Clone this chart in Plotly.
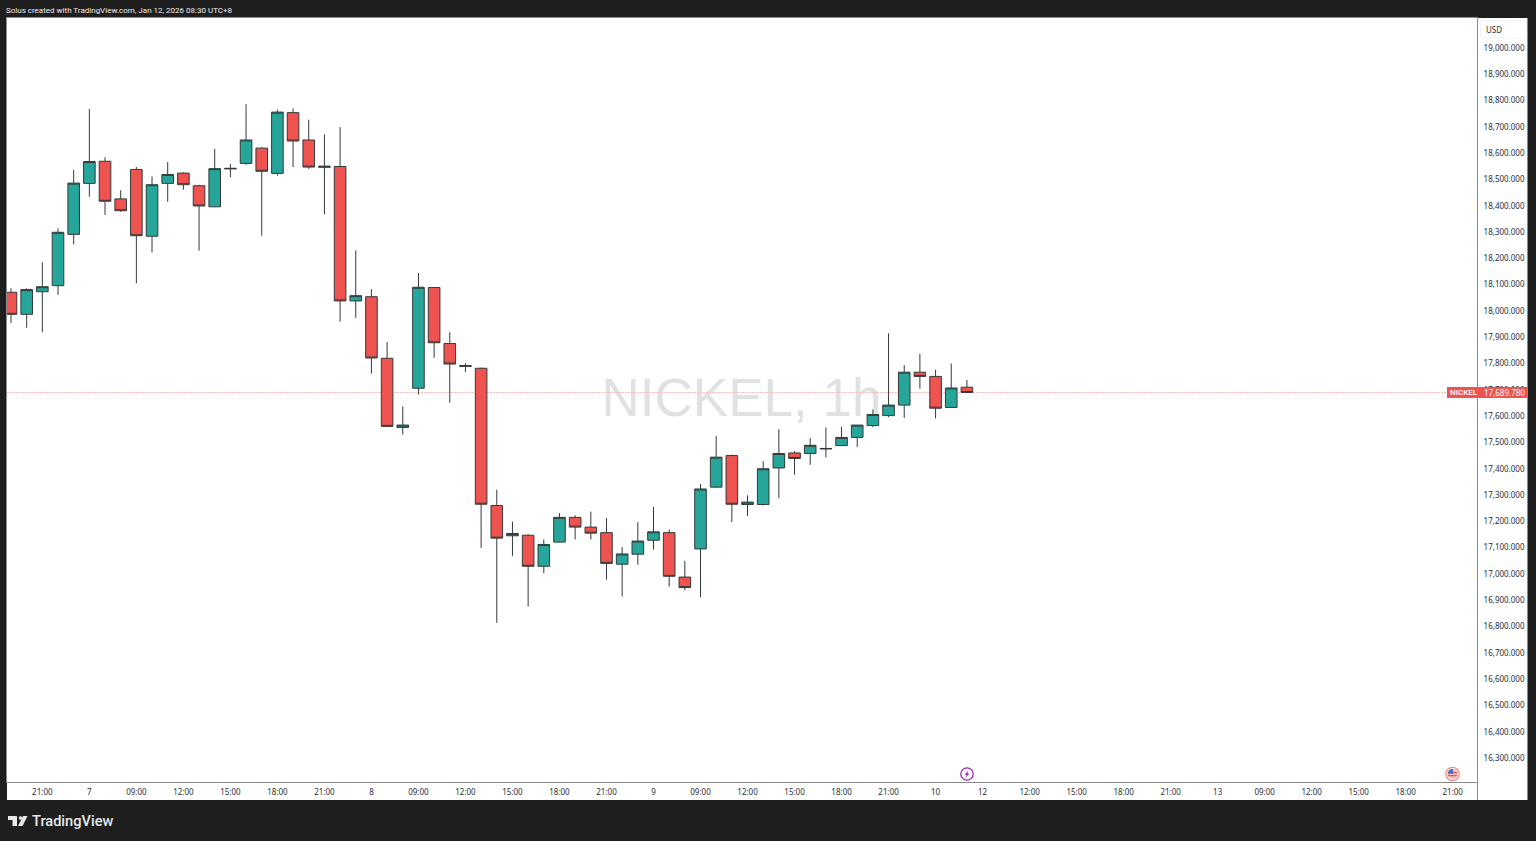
import plotly.graph_objects as go

opens = [18071,17987,18073,18096,18291,18485,18569,18426,18538,18284,18485,18524,18476,18396,18540,18561,18619,18523,18754,18650,18546,18549,18038,18054,17820,17557,17706,18089,17876,17789,17782,17260,17145,17147,17029,17121,17215,17178,17157,17037,17075,17128,17157,16988,17095,17330,17450,17264,17264,17403,17460,17458,17475,17488,17519,17564,17602,17642,17767,17751,17633,17710]
highs = [18086,18086,18185,18314,18536,18768,18584,18459,18547,18511,18566,18527,18480,18616,18559,18786,18623,18765,18770,18727,18671,18699,18230,18083,17882,17637,18144,18091,17919,17801,17785,17320,17199,17151,17131,17231,17223,17237,17212,17102,17197,17255,17169,17050,17342,17524,17454,17299,17429,17550,17467,17516,17557,17559,17566,17625,17915,17794,17837,17776,17800,17737]
lows = [17954,17936,17919,18061,18253,18434,18365,18377,18105,18222,18415,18461,18229,18394,18508,18555,18286,18514,18547,18540,18367,17959,17973,17762,17560,17530,17682,17822,17651,17768,17099,16814,17069,16876,17003,17120,17131,17131,16978,16914,17035,17092,16952,16937,16912,17329,17197,17220,17260,17288,17377,17415,17443,17487,17482,17558,17596,17593,17704,17591,17632,17689.78]
closes = [17987,18081,18092,18299,18486,18568,18417,18381,18286,18480,18519,18480,18399,18541,18542,18650,18531,18756,18646,18547,18550,18038,18058,17821,17561,17566,18090,17879,17798,17792,17265,17136,17154,17029,17112,17215,17178,17155,17040,17076,17125,17160,16991,16948,17323,17444,17265,17273,17400,17458,17439,17489,17477,17519,17566,17606,17642,17767,17751,17630,17707,17689.78]
bar_index = list(range(len(opens)))

tick_positions = list(range(2, 93, 3))
tick_labels = ["21:00","7","09:00","12:00","15:00","18:00","21:00","8","09:00","12:00","15:00","18:00","21:00","9","09:00","12:00","15:00","18:00","21:00","10","12","12:00","15:00","18:00","21:00","13","09:00","12:00","15:00","18:00","21:00"]
price_ticks = list(range(16300, 19100, 100))
last_price = 17689.78

W, H = 1536, 841
L, R, T, B = 7, 1477, 18, 782
DARK = "#1e1e1e"; GREEN = "#26a69a"; RED = "#ef5350"; EDGE = "#343a3a"; TEXT = "#2a2e39"
FONT = "Noto Sans"

def px(x): return (x - L) / (R - L)
def py(y): return (B - y) / (B - T)
def rect(x0, y0, x1, y1, fill, line=None, lw=0, layer="below", kind="rect"):
    return dict(type=kind, xref="paper", yref="paper", x0=px(x0), x1=px(x1), y0=py(y0), y1=py(y1),
                fillcolor=fill, line=dict(color=line or fill, width=lw), layer=layer)
def path(points, fill, line=None, lw=0, layer="above"):
    d = "M " + " L ".join(f"{px(a):.5f},{py(b):.5f}" for a, b in points) + " Z"
    return dict(type="path", xref="paper", yref="paper", path=d, fillcolor=fill,
                line=dict(color=line or fill, width=lw), layer=layer)
def text(x, y, s, size=8, color=TEXT, anchor="left", family=FONT, weight=None):
    f = dict(size=size, color=color, family=family)
    if weight: f["weight"] = weight
    return dict(xref="paper", yref="paper", x=px(x), y=py(y), text=s, showarrow=False, xanchor=anchor,
                yanchor="middle", font=f, borderpad=0, borderwidth=0)

shapes = [
    rect(1478, 18, 1527, 800, "#ffffff"),
    rect(7, 783, 1527, 800, "#ffffff"),
    dict(type="rect", xref="paper", yref="paper", x0=px(605), x1=px(878), y0=py(420), y1=py(365),
         fillcolor="rgba(0,0,0,0)", line=dict(width=0), layer="below",
         label=dict(text="NICKEL, 1h", textposition="middle center",
                    font=dict(size=53, color="#dfe1e3", family="Liberation Sans"))),
    dict(type="line", xref="paper", yref="y", x0=0, x1=px(1447), y0=last_price, y1=last_price,
         line=dict(color="#f9bdbc", width=1, dash="2px,1px"), layer="below"),
    dict(type="line", xref="paper", yref="paper", x0=px(1527.5), x1=px(1527.5), y0=py(18), y1=py(800),
         line=dict(color="#8a8a8a", width=1), layer="above"),
    dict(type="line", xref="paper", yref="paper", x0=px(1477.5), x1=px(1477.5), y0=py(782), y1=py(800),
         line=dict(color="#8a8a8a", width=1), layer="above"),
    dict(type="rect", xref="paper", yref="paper", x0=px(1480.5), x1=px(1526.5), y0=py(38), y1=py(20.5),
         fillcolor="#ffffff", line=dict(color="#f0f3fa", width=1), layer="above"),
    rect(1447, 387, 1477, 398, RED, layer="above"),
    rect(1478, 387, 1527, 398, RED, layer="above"),
    # logo
    path([(8,816),(17,816),(17,826),(12.5,826),(12.5,820),(8,820)], "#e8e8e8"),
    rect(18.7,816.2,22.3,819.8,"#e8e8e8",layer="above",kind="circle"),
    path([(23,816),(27.5,816),(22.5,826),(18,826)], "#e8e8e8"),
    # event icon
    rect(960.8,767.8,973.2,780.2,"#ffffff","#9c27b0",1.3,"above","circle"),
    path([(968.5,770.5),(964.5,774.8),(966.7,774.8),(965.5,777.8),(969.5,773.4),(967.3,773.4)], "#9c27b0"),
    # flag icon
    rect(1445.8,767.3,1459.2,780.7,"#ffffff","#f28b88",1.3,"above","circle"),
    rect(1447.6,769.1,1457.4,778.9,"#f4b9b7",layer="above",kind="circle"),
    path([(1447.6,772),(1457.3,772),(1457.4,773.2),(1447.6,773.2)], "#ef5350"),
    path([(1447.6,775),(1457.4,775),(1457.2,776.2),(1447.8,776.2)], "#ef5350"),
    path([(1447.6,773.8),(1449,770.4),(1451,769.1),(1453,769.1),(1453,773.8)], "#3f72c8"),
]

annotations = [
    text(6, 10, "Solus created with TradingView.com, Jan 12, 2026 08:30 UTC+8", 8, "#ececec", family="Roboto"),
    text(1486, 30, "USD", 8, TEXT),
    text(1449.5, 392.5, "NICKEL", 8, "#ffffff", family="Roboto", weight=500),
    text(1483.5, 392.5, "17,689.780", 8, "#ffffff"),
    text(31.5, 821, "TradingView", 14.6, "#e8e8e8", family="Roboto", weight=500),
]

fig = go.Figure(go.Candlestick(
    x=bar_index, open=opens, high=highs, low=lows, close=closes,
    increasing=dict(fillcolor=GREEN, line=dict(color=EDGE, width=1)),
    decreasing=dict(fillcolor=RED, line=dict(color=EDGE, width=1)),
    whiskerwidth=0, showlegend=False,
))
fig.update_layout(
    width=W, height=H, autosize=False,
    margin=dict(l=L, r=W - R, t=T, b=H - B, pad=0),
    paper_bgcolor=DARK, plot_bgcolor="#ffffff", boxgap=0.26, boxgroupgap=0, showlegend=False,
    shapes=shapes, annotations=annotations,
    xaxis=dict(range=[-0.255, 93.55], rangeslider=dict(visible=False), tickmode="array",
               tickvals=tick_positions, ticktext=tick_labels, showgrid=False, zeroline=False,
               showline=True, mirror=True, linecolor="#8a8a8a", linewidth=1, ticks="outside",
               ticklen=2, tickcolor="rgba(0,0,0,0)", tickfont=dict(size=8, color=TEXT, family=FONT), tickangle=0),
    yaxis=dict(range=[16208.8, 19113.8], side="right", tickmode="array", tickvals=price_ticks,
               tickformat=",.3f", showgrid=False, zeroline=False, showline=True, mirror=True,
               linecolor="#8a8a8a", linewidth=1, ticks="outside", ticklen=4,
               tickcolor="rgba(0,0,0,0)", tickfont=dict(size=8, color=TEXT, family=FONT)),
)
fig.write_html("out.html", config=dict(displayModeBar=False),
               post_script="document.body.style.margin='0';document.body.style.overflow='hidden';document.body.style.background='#1e1e1e';")
